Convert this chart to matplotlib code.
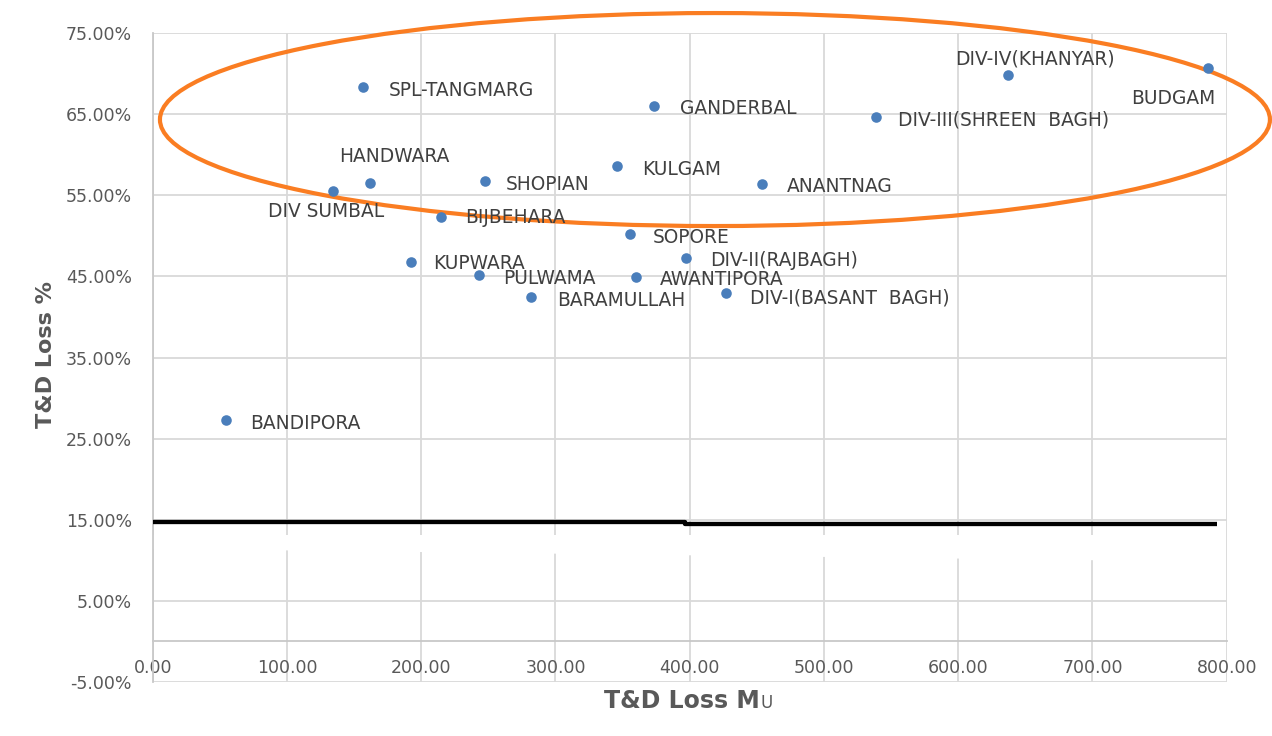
import matplotlib
matplotlib.use("Agg")
import matplotlib.pyplot as plt
from matplotlib.patches import Ellipse
from matplotlib.ticker import FuncFormatter, FixedLocator

# ---------------- data ----------------
names = ["SPL-TANGMARG", "HANDWARA", "DIV SUMBAL", "GANDERBAL", "KULGAM",
         "SHOPIAN", "ANANTNAG", "BIJBEHARA", "SOPORE", "DIV-IV(KHANYAR)",
         "DIV-III(SHREEN  BAGH)", "BUDGAM", "KUPWARA", "PULWAMA", "BARAMULLAH",
         "DIV-II(RAJBAGH)", "AWANTIPORA", "DIV-I(BASANT  BAGH)", "BANDIPORA"]
loss_mu = [156.4, 161.9, 134.5, 373.6, 346.1,
           247.5, 453.6, 214.4, 355.5, 637.3,
           538.5, 786.3, 192.4, 243.3, 281.8,
           397.0, 360.0, 427.0, 54.6]
loss_pct = [68.41, 56.57, 55.58, 66.07, 58.66,
            56.78, 56.37, 52.37, 50.18, 69.86,
            64.71, 70.76, 46.82, 45.18, 42.50,
            47.24, 44.97, 42.92, 27.29]

# label offsets (pixels: left edge of text, cap-centre; +dy = down)
label_dx = [25.6, -30.7, -65.0, 25.7, 24.4,
            21.0, 25.0, 24.5, 22.7, -53.3,
            22.6, -77.3, 22.3, 24.0, 25.7,
            24.3, 24.0, 24.0, 24.0]
label_dy = [2.5, -27.7, 19.6, 2.0, 2.3,
            2.7, 1.0, 0.0, 1.5, -17.5,
            1.8, 30.0, 1.0, 2.3, 2.5,
            1.0, 2.0, 3.3, 2.2]

x_ticks = [0, 100, 200, 300, 400, 500, 600, 700, 800]
y_ticks = [-5, 5, 15, 25, 35, 45, 55, 65, 75]

# benchmark line (~15 %) as drawn on the chart
bench_x = [0, 396.5, 396.5, 792.8]
bench_y = [14.68, 14.68, 14.49, 14.49]

# highlight ellipse (data coordinates)
ell_center = (418.8, 64.36)
ell_width = 826.8
ell_height = 26.28

# ---------------- figure ----------------
W, H = 1272, 736
fig = plt.figure(figsize=(W / 100, H / 100), dpi=100)
ax = fig.add_axes([152.7 / W, 1 - 681.7 / H, 1074 / W, 648.4 / H])

ax.set_xlim(0, 800)
ax.set_ylim(-5, 75)
ax.xaxis.set_major_locator(FixedLocator(x_ticks))
ax.yaxis.set_major_locator(FixedLocator(y_ticks))
ax.xaxis.set_major_formatter(FuncFormatter(lambda v, p: f"{v:.2f}"))
ax.yaxis.set_major_formatter(FuncFormatter(lambda v, p: f"{v:.2f}%"))

ax.grid(True, color="#D9D9D9", lw=1.3)
ax.set_axisbelow(True)
for s in ["top", "right"]:
    ax.spines[s].set_visible(False)
ax.spines["bottom"].set_position(("data", 0))
ax.spines["bottom"].set_color("#C8C8C8")
ax.spines["left"].set_color("#C8C8C8")
ax.spines["bottom"].set_linewidth(1.3)
ax.spines["left"].set_linewidth(1.3)

ax.tick_params(axis="both", length=0, labelsize=12.5, labelcolor="#595959")
ax.tick_params(axis="x", pad=13)
ax.tick_params(axis="y", pad=15)

# white band artefact over the gridlines below the benchmark line
ax.fill([0.6, 795, 795, 0.6], [13.1, 13.1, 9.8, 11.4], color="white",
        lw=0, zorder=1)

ax.plot(bench_x, bench_y, color="black", lw=3.1, solid_capstyle="butt",
        zorder=3)

ax.scatter(loss_mu, loss_pct, s=58, color="#4A7EBB", zorder=5, lw=0,
           clip_on=False)

lab_size = 13.4
cap_half = lab_size * 100 / 72 * 0.729 / 2
for n, x, y, dx, dy in zip(names, loss_mu, loss_pct, label_dx, label_dy):
    ax.annotate(n, (x, y), xytext=(dx, -dy - cap_half),
                textcoords="offset pixels", ha="left", va="baseline",
                fontsize=lab_size, color="#404040", zorder=6)

ell = Ellipse(ell_center, ell_width, ell_height, fill=False,
              ec="#FA7D22", lw=3.0, clip_on=False, zorder=4)
ax.add_patch(ell)

# axis titles
fig.text(46 / W, 1 - 354 / H, "T&D Loss %", rotation=90, ha="center",
         va="center", fontsize=16, fontweight="bold", color="#595959")
fig.text(760 / W, 1 - 708 / H, "T&D Loss M", ha="right", va="baseline",
         fontsize=17, fontweight="bold", color="#595959")
fig.text(761 / W, 1 - 708 / H, "U", ha="left", va="baseline",
         fontsize=12, color="#595959")

fig.savefig("out.png", dpi=100)
